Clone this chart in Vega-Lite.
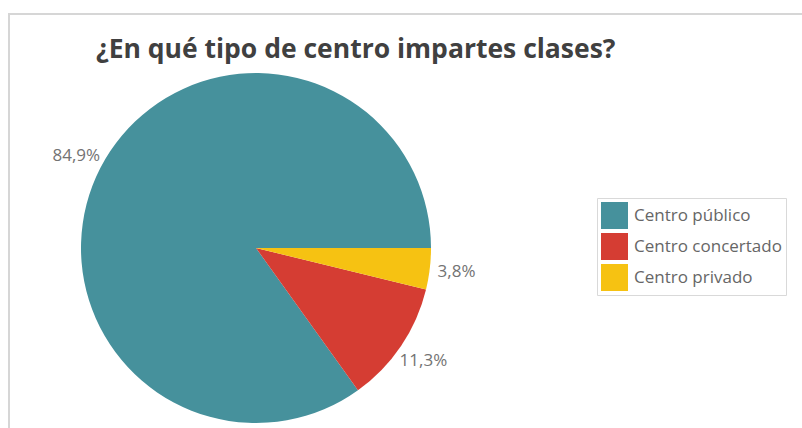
{
  "$schema": "https://vega.github.io/schema/vega-lite/v6.json",
  "autosize": "none",
  "width": 802,
  "height": 428,
  "padding": {"left": 9, "top": 14, "right": 0, "bottom": 0},
  "background": "white",
  "view": {"stroke": "#d6d6d6", "strokeWidth": 2, "fill": "white"},
  "config": {
    "view": {"stroke": "#d6d6d6", "strokeWidth": 2},
    "font": "Open Sans"
  },
  "title": {
    "text": "¿En qué tipo de centro impartes clases?",
    "anchor": "start",
    "frame": "group",
    "orient": "top",
    "offset": 0,
    "dx": 87,
    "dy": 49,
    "font": "Open Sans",
    "fontSize": 26.5,
    "fontWeight": "bold",
    "color": "#404040"
  },
  "data": {
    "values": [
      {"tipo": "Centro público", "pct": 84.9, "label": "84,9%", "ord": 3},
      {"tipo": "Centro concertado", "pct": 11.3, "label": "11,3%", "ord": 2},
      {"tipo": "Centro privado", "pct": 3.8, "label": "3,8%", "ord": 1}
    ]
  },
  "encoding": {
    "theta": {"field": "pct", "type": "quantitative", "stack": true, "scale": {"range": [1.5707963, 7.8539816]}},
    "order": {"field": "ord", "type": "quantitative", "sort": "ascending"}
  },
  "layer": [
    {
      "mark": {"type": "arc", "outerRadius": 175, "x": 247, "y": 234},
      "encoding": {
        "fill": {
          "field": "tipo",
          "type": "nominal",
          "scale": {
            "domain": ["Centro público", "Centro concertado", "Centro privado"],
            "range": ["#46919c", "#d53d33", "#f6c212"]
          },
          "legend": {
            "title": null,
            "orient": "none",
            "legendX": 588,
            "legendY": 184,
            "strokeColor": "#d9d9d9",
            "padding": 4,
            "symbolType": "square",
            "symbolSize": 729,
            "symbolStrokeWidth": 0,
            "rowPadding": 4,
            "labelFont": "Open Sans",
            "labelFontSize": 17,
            "labelColor": "#666666",
            "labelOffset": 6
          }
        }
      }
    },
    {
      "mark": {"type": "text", "radius": 202, "x": 247, "y": 234, "font": "Open Sans", "fontSize": 17, "color": "#737373"},
      "encoding": {
        "text": {"field": "label", "type": "nominal"}
      }
    }
  ]
}
